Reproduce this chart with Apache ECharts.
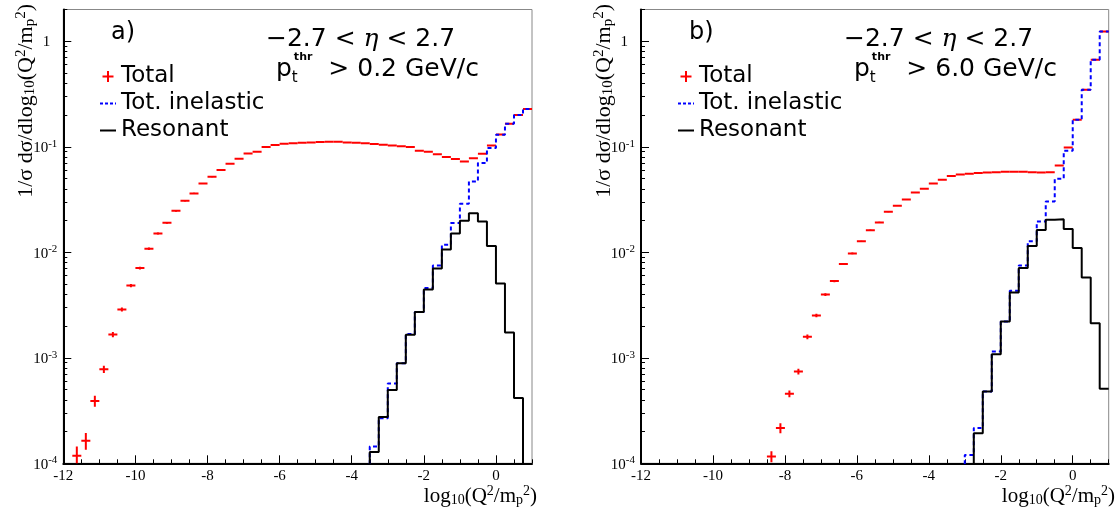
<!DOCTYPE html>
<html>
<head>
<meta charset="utf-8">
<title>Q2 distributions</title>
<script src="https://cdn.jsdelivr.net/npm/echarts@6/dist/echarts.min.js"></script>
<style>
html, body { margin: 0; padding: 0; background: #fff; }
#chart { width: 1120px; height: 517px; }
</style>
</head>
<body>
<div id="chart"></div>
<script>
// --------------------------------------------------------------
// Data (bin width 0.25 in log10(Q2/mp2))
// --------------------------------------------------------------
const BIN_WIDTH = 0.25;
const X_MIN = -12;
const X_MAX = 1;
const Y_MIN = 1e-4;
const Y_MAX = 2;

// a) pt thr > 0.2 GeV/c
const totalAStart = -11.75;
const totalA = [
    1.18e-4, 1.64e-4, 3.9e-4, 7.8e-4, 1.66e-3, 2.87e-3, 4.84e-3, 7.08e-3,
    1.08e-2, 1.51e-2, 1.9e-2, 2.47e-2, 3.08e-2, 3.61e-2, 4.49e-2, 5.2e-2,
    6.01e-2, 6.9e-2, 7.69e-2, 8.64e-2, 8.97e-2, 9.93e-2, 0.1038, 0.107,
    0.108, 0.109, 0.110, 0.111, 0.1115, 0.1115, 0.110, 0.109, 0.108, 0.106,
    0.1045, 0.103, 0.101, 0.0995, 0.0915, 0.0895, 0.085, 0.080, 0.0765,
    0.0726, 0.078, 0.086, 0.103, 0.131, 0.165, 0.20, 0.228
];
// relative errors of the first points (the rest are too small to see)
const totalAErr = [0.22, 0.18, 0.12, 0.08, 0.055, 0.045, 0.035, 0.03, 0.025, 0.022, 0.02, 0.018, 0.015, 0.013, 0.012, 0.01];
const inelasticAStart = -3.5;
const inelasticA = [
    1.44e-4, 2.68e-4, 5.7e-4, 8.9e-4, 1.68e-3, 2.71e-3, 4.58e-3, 7.5e-3,
    1.18e-2, 1.89e-2, 2.88e-2, 4.69e-2, 7.0e-2, 9.72e-2, 0.130, 0.165, 0.20, 0.228
];
const resonantAStart = -3.5;
const resonantA = [
    1.28e-4, 2.74e-4, 4.94e-4, 8.9e-4, 1.65e-3, 2.71e-3, 4.44e-3, 7.02e-3,
    1.06e-2, 1.51e-2, 1.99e-2, 2.35e-2, 1.96e-2, 1.15e-2, 5.06e-3, 1.74e-3, 4.15e-4
];

// b) pt thr > 6.0 GeV/c
const totalBStart = -8.5;
const totalB = [
    1.16e-4, 2.16e-4, 4.56e-4, 7.41e-4, 1.58e-3, 2.52e-3, 3.98e-3, 5.33e-3,
    7.73e-3, 9.75e-3, 1.27e-2, 1.62e-2, 1.92e-2, 2.42e-2, 2.76e-2, 3.17e-2,
    3.69e-2, 4.0e-2, 4.49e-2, 4.86e-2, 5.27e-2, 5.45e-2, 5.55e-2, 5.64e-2,
    5.71e-2, 5.75e-2, 5.79e-2, 5.79e-2, 5.79e-2, 5.75e-2, 5.71e-2, 5.75e-2,
    6.65e-2, 9.85e-2, 0.18, 0.347, 0.668, 1.24
];
const totalBErr = [0.12, 0.11, 0.075, 0.065, 0.05, 0.04, 0.03, 0.025, 0.02, 0.018, 0.015, 0.013, 0.012, 0.01];
const inelasticBStart = -3.0;
const inelasticB = [
    1.2e-4, 2.16e-4, 4.8e-4, 1.15e-3, 2.21e-3, 4.33e-3, 7.5e-3, 1.27e-2,
    1.96e-2, 3.03e-2, 4.97e-2, 9.16e-2, 0.18, 0.347, 0.668, 1.24
];
const resonantBStart = -2.75;
const resonantB = [
    1.93e-4, 4.8e-4, 1.08e-3, 2.21e-3, 4.16e-3, 7.08e-3, 1.15e-2, 1.63e-2,
    2.03e-2, 2.06e-2, 1.66e-2, 1.1e-2, 5.77e-3, 2.13e-3, 5.08e-4
];

// axis ticks and labels
const xMajorTicks = [-12, -10, -8, -6, -4, -2, 0];
const yDecades = [-4, -3, -2, -1, 0];

const xMinorTicks = [];
for (let x = X_MIN; x <= X_MAX; x += 0.5) {
    if (x % 2 !== 0) xMinorTicks.push(x);
}
const yMinorTicks = [];
for (let e = -4; e < 0; e++) {
    for (let k = 2; k <= 9; k++) yMinorTicks.push(Math.log10(k) + e);
}
yMinorTicks.push(Math.log10(2));

// --------------------------------------------------------------
// Helpers
// --------------------------------------------------------------
const lg = Math.log10;
const FLOOR = -6; // below the axis, clipped away

const SANS = "DejaVu Sans";
const SERIF = "Liberation Serif";
const RED = "#ff0000";
const BLUE = "#0000ff";

function totalData(start, values, relErr) {
    return values.map((v, i) => {
        const e = relErr[i] || 0;
        return [start + (i + 0.5) * BIN_WIDTH, lg(v), lg(v * (1 + e)), lg(v * (1 - e))];
    });
}

function stepData(start, values) {
    const end = start + values.length * BIN_WIDTH;
    const pts = [[start, FLOOR]];
    values.forEach((v, i) => pts.push([start + i * BIN_WIDTH, lg(v)]));
    pts.push([end, lg(values[values.length - 1])]);
    if (end < X_MAX) pts.push([end, FLOOR]);
    return pts;
}

function renderTotal(params, api) {
    const xc = api.value(0);
    const y = api.value(1);
    const yHi = api.value(2);
    const yLo = api.value(3);
    const a = api.coord([xc - BIN_WIDTH / 2, y]);
    const b = api.coord([xc + BIN_WIDTH / 2, y]);
    const style = { stroke: RED, lineWidth: 2 };
    const children = [{ type: "line", shape: { x1: a[0], y1: a[1], x2: b[0], y2: b[1] }, style }];
    if (yHi > y) {
        const top = api.coord([xc, yHi]);
        const bot = api.coord([xc, yLo]);
        children.push({ type: "line", shape: { x1: top[0], y1: top[1], x2: bot[0], y2: bot[1] }, style });
    }
    return { type: "group", children };
}

function xAxes(gridIndex) {
    return [
        {
            type: "value", gridIndex, min: X_MIN, max: X_MAX, position: "bottom",
            axisLine: { show: true, onZero: false, lineStyle: { color: "#000", width: 2 } },
            axisTick: { show: true, inside: true, length: 8, customValues: xMajorTicks, lineStyle: { color: "#000", width: 1 } },
            axisLabel: { show: true, customValues: xMajorTicks, margin: 5, fontFamily: SERIF, fontSize: 15, color: "#000" },
            splitLine: { show: false }
        },
        {
            type: "value", gridIndex, min: X_MIN, max: X_MAX, position: "bottom",
            axisLine: { show: false, onZero: false },
            axisTick: { show: true, inside: true, length: 4, customValues: xMinorTicks, lineStyle: { color: "#000", width: 1 } },
            axisLabel: { show: false },
            splitLine: { show: false }
        }
    ];
}

function yAxes(gridIndex) {
    return [
        {
            type: "value", gridIndex, min: lg(Y_MIN), max: lg(Y_MAX), position: "left",
            axisLine: { show: true, onZero: false, lineStyle: { color: "#000", width: 2 } },
            axisTick: { show: true, inside: true, length: 8, customValues: yDecades, lineStyle: { color: "#000", width: 1 } },
            axisLabel: {
                show: true, customValues: yDecades, margin: 6, color: "#000",
                formatter: v => v === 0 ? "{one|1}" : "{b|10}{s|" + v + "}",
                rich: {
                    one: { fontFamily: SERIF, fontSize: 15, padding: [2, 7, 0, 0] },
                    b: { fontFamily: SERIF, fontSize: 15, lineHeight: 17, padding: [3, 0, 0, 0] },
                    s: { fontFamily: SERIF, fontSize: 11, lineHeight: 11, verticalAlign: "top" }
                }
            },
            splitLine: { show: false }
        },
        {
            type: "value", gridIndex, min: lg(Y_MIN), max: lg(Y_MAX), position: "left",
            axisLine: { show: false, onZero: false },
            axisTick: { show: true, inside: true, length: 4, customValues: yMinorTicks, lineStyle: { color: "#000", width: 1 } },
            axisLabel: { show: false },
            splitLine: { show: false }
        }
    ];
}

function panelSeries(gridIndex, d) {
    const xi = gridIndex * 2;
    const yi = gridIndex * 2;
    return [
        {
            name: "Tot. inelastic", type: "line", step: "end", xAxisIndex: xi, yAxisIndex: yi,
            data: stepData(d.inelStart, d.inel), showSymbol: false, symbol: "none", clip: true,
            color: BLUE, lineStyle: { color: BLUE, width: 2, type: [4, 3] }
        },
        {
            name: "Resonant", type: "line", step: "end", xAxisIndex: xi, yAxisIndex: yi,
            data: stepData(d.resStart, d.res), showSymbol: false, symbol: "none", clip: true,
            color: "#000", lineStyle: { color: "#000", width: 2 }
        },
        {
            name: "Total", type: "custom", xAxisIndex: xi, yAxisIndex: yi,
            data: totalData(d.totStart, d.tot, d.totErr), renderItem: renderTotal,
            encode: { x: 0, y: 1 }, clip: true, itemStyle: { color: RED }
        }
    ];
}

const PLUS = "path://M4.5,0h2v11h-2z M0,4.5h11v2h-11z";
const DOTS = "path://M0,0h3v2h-3z M5,0h3v2h-3z M10,0h3v2h-3z M15,0h1v2h-1z";
const BAR = "path://M0,0h16v2h-16z";

function panelLegend(left) {
    return {
        left, top: 60, orient: "vertical", itemGap: 4, itemWidth: 16, itemHeight: 11,
        selectedMode: false,
        itemStyle: { borderWidth: 0 },
        textStyle: { fontFamily: SANS, fontSize: 23, color: "#000" },
        data: [
            { name: "Total", icon: PLUS },
            { name: "Tot. inelastic", icon: DOTS },
            { name: "Resonant", icon: BAR }
        ]
    };
}

const titleRich = {
    a: { fontFamily: SERIF, fontSize: 21, lineHeight: 23 },
    sub: { fontFamily: SERIF, fontSize: 14, lineHeight: 12, verticalAlign: "bottom" },
    sup: { fontFamily: SERIF, fontSize: 14, lineHeight: 15, verticalAlign: "top" }
};
const yTitleRich = {
    a: { fontFamily: SERIF, fontSize: 22, lineHeight: 24 },
    sub: { fontFamily: SERIF, fontSize: 15, lineHeight: 13, verticalAlign: "bottom" },
    sup: { fontFamily: SERIF, fontSize: 15, lineHeight: 16, verticalAlign: "top" }
};
const Q2_TEXT = "{a|(Q}{sup|2}{a|/m}{sub|p}{sup|2}{a|)}";

function panelTexts(dx, tag, cut) {
    return [
        {
            type: "text", x: 111 + dx, y: 33,
            style: { text: tag, fontFamily: SANS, fontSize: 24, fill: "#000", verticalAlign: "middle" }
        },
        {
            type: "text", x: 266 + dx, y: 39,
            style: {
                text: "{a|−2.7 < }{eta|η}{a| < 2.7}", fill: "#000", verticalAlign: "middle",
                rich: {
                    a: { fontFamily: SANS, fontSize: 25 },
                    eta: { fontFamily: "DejaVu Serif", fontStyle: "italic", fontSize: 25 }
                }
            }
        },
        {
            type: "text", x: 276 + dx, y: 69,
            style: {
                text: "{p|p}{t|t}{thr|thr}{r| > " + cut + " GeV/c}", fill: "#000", verticalAlign: "middle",
                rich: {
                    p: { fontFamily: SANS, fontSize: 25, lineHeight: 34 },
                    t: { fontFamily: SANS, fontSize: 15, lineHeight: 14, verticalAlign: "bottom", width: 2 },
                    thr: { fontFamily: SANS, fontSize: 11, fontWeight: "bold", lineHeight: 18, verticalAlign: "top", padding: [0, 8, 0, 0] },
                    r: { fontFamily: SANS, fontSize: 25, lineHeight: 34 }
                }
            }
        },
        {
            type: "text", x: 26 + dx, y: 4, rotation: Math.PI / 2,
            style: {
                text: "{a|1/σ dσ/dlog}{sub|10}" + Q2_TEXT, fill: "#000",
                align: "right", verticalAlign: "middle", rich: yTitleRich
            }
        },
        {
            type: "text", x: 537 + dx, y: 496,
            style: {
                text: "{a|log}{sub|10}" + Q2_TEXT, fill: "#000",
                align: "right", verticalAlign: "middle", rich: titleRich
            }
        }
    ];
}

// --------------------------------------------------------------
// Chart
// --------------------------------------------------------------
const chart = echarts.init(document.getElementById("chart"), null, { renderer: "canvas" });

const gridStyle = { show: true, borderColor: "#888", borderWidth: 1, backgroundColor: "transparent" };

chart.setOption({
    animation: false,
    backgroundColor: "#fff",
    grid: [
        Object.assign({ left: 63.3, top: 9.5, width: 468.7, height: 453.8 }, gridStyle),
        Object.assign({ left: 641, top: 9.5, width: 467.7, height: 453.8 }, gridStyle)
    ],
    xAxis: [...xAxes(0), ...xAxes(1)],
    yAxis: [...yAxes(0), ...yAxes(1)],
    legend: [panelLegend(95), panelLegend(673)],
    series: [
        ...panelSeries(0, {
            totStart: totalAStart, tot: totalA, totErr: totalAErr,
            inelStart: inelasticAStart, inel: inelasticA,
            resStart: resonantAStart, res: resonantA
        }),
        ...panelSeries(1, {
            totStart: totalBStart, tot: totalB, totErr: totalBErr,
            inelStart: inelasticBStart, inel: inelasticB,
            resStart: resonantBStart, res: resonantB
        })
    ],
    graphic: [...panelTexts(0, "a)", "0.2"), ...panelTexts(578, "b)", "6.0")]
});
</script>
</body>
</html>
